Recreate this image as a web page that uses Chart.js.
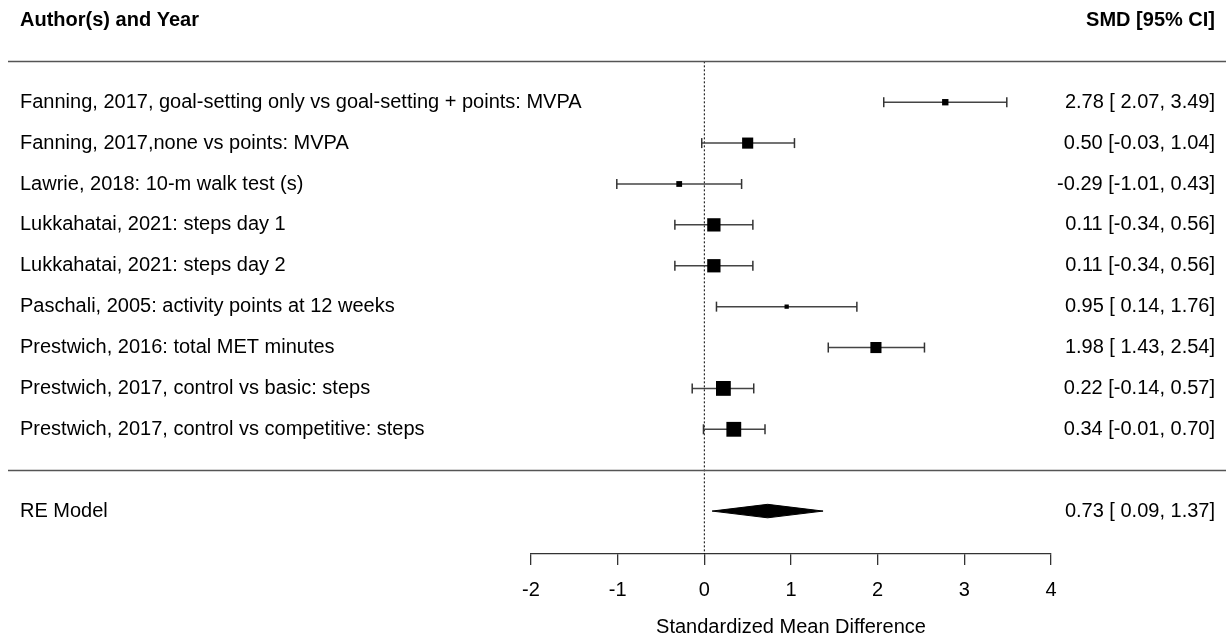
<!DOCTYPE html>
<html>
<head>
<meta charset="utf-8">
<script src="https://cdn.jsdelivr.net/npm/chart.js@4.4.0/dist/chart.umd.min.js"></script>
<style>
    body { margin: 0; background: #fff; }
    #wrap { width: 1226px; height: 641px; }
</style>
</head>
<body>
<div id="wrap"><canvas id="ChartForest"></canvas></div>
<script>
// studies, top to bottom
const studies = [
    'Fanning, 2017, goal-setting only vs goal-setting + points: MVPA',
    'Fanning, 2017,none vs points: MVPA',
    'Lawrie, 2018: 10-m walk test (s)',
    'Lukkahatai, 2021: steps day 1',
    'Lukkahatai, 2021: steps day 2',
    'Paschali, 2005: activity points at 12 weeks',
    'Prestwich, 2016: total MET minutes',
    'Prestwich, 2017, control vs basic: steps',
    'Prestwich, 2017, control vs competitive: steps'
];
const smd = [2.78, 0.50, -0.29, 0.11, 0.11, 0.95, 1.98, 0.22, 0.34];
const ciLower = [2.07, -0.03, -1.01, -0.34, -0.34, 0.14, 1.43, -0.14, -0.01];
const ciUpper = [3.49, 1.04, 0.43, 0.56, 0.56, 1.76, 2.54, 0.57, 0.70];
// relative weights (%)
const weights = [6.7, 11.7, 6.1, 14.0, 14.0, 4.5, 11.7, 15.6, 15.6];

const reLabel = 'RE Model';
const reSmd = 0.73;
const reLower = 0.09;
const reUpper = 1.37;

const xTicks = [-2, -1, 0, 1, 2, 3, 4];

const k = studies.length;
const rows = studies.map((s, i) => k - i);   // k ... 1
const reRow = -1;
const yMin = -2.05;
const yMax = k + 2.5;

const fmt = v => v.toFixed(2);
const fmtLo = v => (v < 0 ? '' : ' ') + v.toFixed(2);
const rightText = smd.map((v, i) => `${fmt(v)} [${fmtLo(ciLower[i])}, ${fmt(ciUpper[i])}]`);
const reText = `${fmt(reSmd)} [${fmtLo(reLower)}, ${fmt(reUpper)}]`;

const FONT = '"Liberation Sans", Arial, sans-serif';

// CI lines with end caps
const ciSets = studies.map((s, i) => ({
    data: [{ x: ciLower[i], y: rows[i] }, { x: ciUpper[i], y: rows[i] }],
    showLine: true,
    borderColor: '#444',
    borderWidth: 1.5,
    pointStyle: 'line',
    rotation: 90,
    pointRadius: 5,
    pointBorderColor: '#333',
    pointBorderWidth: 1.5,
    order: 2
}));

const diamondH = 0.165;

const textPlugin = {
    id: 'forestText',
    afterDraw(chart) {
        const ctx = chart.ctx;
        const y = chart.scales.y;
        ctx.save();
        // separator lines
        ctx.strokeStyle = '#555';
        ctx.lineWidth = 1.6;
        [k + 1, 0].forEach(v => {
            const py = Math.round(y.getPixelForValue(v)) + 0.5;
            ctx.beginPath();
            ctx.moveTo(8, py);
            ctx.lineTo(chart.width, py);
            ctx.stroke();
        });
        ctx.fillStyle = '#000';
        ctx.textBaseline = 'middle';
        ctx.font = 'bold 20px ' + FONT;
        ctx.textAlign = 'left';
        ctx.fillText('Author(s) and Year', 20, y.getPixelForValue(k + 2));
        ctx.textAlign = 'right';
        ctx.fillText('SMD [95% CI]', 1215, y.getPixelForValue(k + 2));
        ctx.font = '20px ' + FONT;
        studies.forEach((s, i) => {
            const py = y.getPixelForValue(rows[i]);
            ctx.textAlign = 'left';
            ctx.fillText(s, 20, py);
            ctx.textAlign = 'right';
            ctx.fillText(rightText[i], 1215, py);
        });
        const pr = y.getPixelForValue(reRow);
        ctx.textAlign = 'left';
        ctx.fillText(reLabel, 20, pr);
        ctx.textAlign = 'right';
        ctx.fillText(reText, 1215, pr);
        ctx.restore();
    }
};

const data = {
    datasets: [
        // reference line at 0
        {
            data: [{ x: 0, y: k + 1 }, { x: 0, y: yMin }],
            showLine: true,
            borderColor: '#000',
            borderWidth: 1,
            borderDash: [2, 2],
            pointRadius: 0,
            order: 3
        },
        ...ciSets,
        // study boxes
        {
            data: smd.map((v, i) => ({ x: v, y: rows[i] })),
            pointStyle: 'rect',
            pointRadius: weights.map(w => w * 0.95 / Math.SQRT2),
            backgroundColor: '#000',
            borderColor: '#000',
            borderWidth: 0,
            order: 1
        },
        // RE diamond, upper and lower halves
        {
            data: [{ x: reLower, y: reRow }, { x: reSmd, y: reRow + diamondH }, { x: reUpper, y: reRow }],
            showLine: true,
            borderColor: '#000',
            borderWidth: 1,
            pointRadius: 0,
            tension: 0,
            order: 1
        },
        {
            data: [{ x: reLower, y: reRow }, { x: reSmd, y: reRow - diamondH }, { x: reUpper, y: reRow }],
            showLine: true,
            borderColor: '#000',
            borderWidth: 1,
            backgroundColor: '#000',
            fill: '-1',
            pointRadius: 0,
            tension: 0,
            order: 1
        }
    ]
};

const config = {
    type: 'scatter',
    data: data,
    options: {
        responsive: true,
        maintainAspectRatio: false,
        animation: false,
        events: [],
        layout: {
            autoPadding: false,
            padding: { left: 531, right: 175, top: 0, bottom: 0 }
        },
        plugins: {
            legend: { display: false },
            tooltip: { enabled: false }
        },
        scales: {
            x: {
                type: 'linear',
                min: -2,
                max: 4,
                afterBuildTicks: axis => { axis.ticks = xTicks.map(v => ({ value: v })); },
                afterFit: axis => { axis.height = 87; },
                grid: {
                    drawOnChartArea: false,
                    drawTicks: true,
                    tickLength: 11,
                    color: '#333',
                    lineWidth: 1.3
                },
                border: { display: true, color: '#333', width: 1.3 },
                ticks: {
                    color: '#000',
                    padding: 13,
                    font: { family: FONT, size: 20 }
                },
                title: {
                    display: true,
                    text: 'Standardized Mean Difference',
                    color: '#000',
                    font: { family: FONT, size: 20 },
                    padding: { top: 0, bottom: 2 }
                }
            },
            y: {
                type: 'linear',
                display: false,
                min: yMin,
                max: yMax
            }
        }
    },
    plugins: [textPlugin]
};

const myForest = new Chart(document.getElementById('ChartForest'), config);
</script>
</body>
</html>
